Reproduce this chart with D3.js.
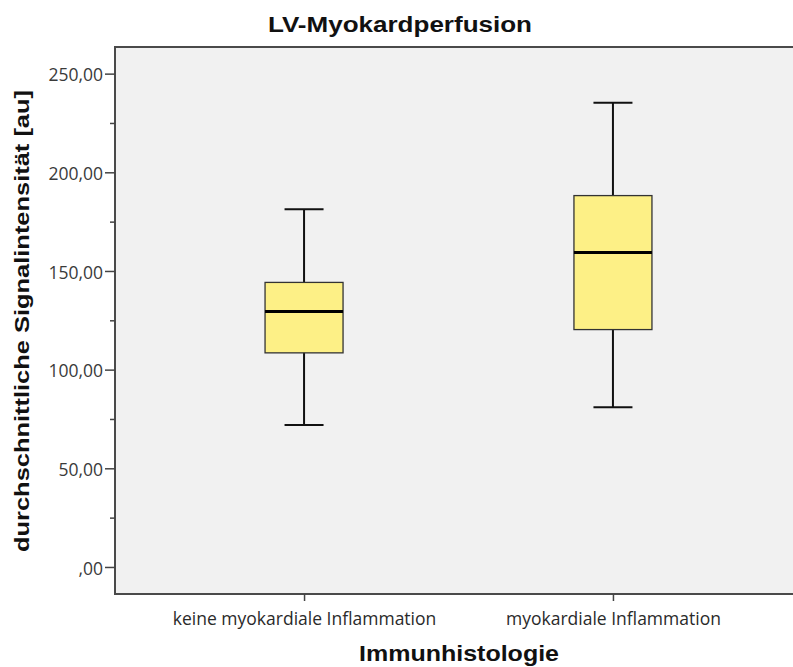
<!DOCTYPE html>
<html>
<head>
<meta charset="utf-8">
<script src="https://cdn.jsdelivr.net/npm/d3@7"></script>
<style>
  html, body { margin: 0; padding: 0; background: #ffffff; overflow: hidden; }
  svg { display: block; }
</style>
</head>
<body>
<svg id="chart" width="793" height="667"></svg>
<script>
// Box plot summary per group: whisker ends, quartiles, median
const categories = ["keine myokardiale Inflammation", "myokardiale Inflammation"];
const whiskerLow  = [72, 81];
const q1          = [108.5, 120.3];
const median      = [129.5, 159.3];
const q3          = [144.2, 188.2];
const whiskerHigh = [181.3, 235.3];
const yTicks = [0, 50, 100, 150, 200, 250];
const yMinorTicks = [25, 75, 125, 175, 225];

const svg = d3.select("#chart");
const plot = { left: 115, right: 802, top: 47, bottom: 594 };

const y = d3.scaleLinear().domain([-13.7, 263.5]).range([plot.bottom, plot.top]);
const x = d3.scalePoint().domain(categories).range([plot.left, plot.right]).padding(0.612);

const fmt = v => (v === 0 ? ",00" : d3.format(".2f")(v).replace(".", ","));
const tickFont = "'Open Sans', sans-serif";
const titleFont = "'Liberation Sans', Arial, sans-serif";

// Plot area background
svg.append("rect")
  .attr("x", plot.left).attr("y", plot.top)
  .attr("width", plot.right - plot.left).attr("height", plot.bottom - plot.top)
  .attr("fill", "#f1f1f1").attr("stroke", "#4a4a4a").attr("stroke-width", 2);

// Y axis
const yAxis = d3.axisLeft(y).tickValues(yTicks).tickFormat(fmt).tickSizeOuter(0).tickSize(10).tickPadding(2);
const gy = svg.append("g").attr("transform", `translate(${plot.left},0)`).call(yAxis);
gy.select(".domain").remove();
gy.selectAll("line").attr("stroke", "#444").attr("stroke-width", 1.5);
gy.selectAll("text").attr("font-family", tickFont).attr("font-size", 17.5).attr("fill", "#3a3a3a").attr("dy", "0.42em");

const yMinor = d3.axisLeft(y).tickValues(yMinorTicks).tickFormat("").tickSizeOuter(0).tickSize(5);
const gym = svg.append("g").attr("transform", `translate(${plot.left},0)`).call(yMinor);
gym.select(".domain").remove();
gym.selectAll("line").attr("stroke", "#444").attr("stroke-width", 1.5);

// X axis
const xAxis = d3.axisBottom(x).tickSize(7).tickSizeOuter(0).tickPadding(12);
const gx = svg.append("g").attr("transform", `translate(0,${plot.bottom})`).call(xAxis);
gx.select(".domain").remove();
gx.selectAll("line").attr("stroke", "#444").attr("stroke-width", 1.5);
gx.selectAll("text").attr("font-family", tickFont).attr("font-size", 17.5).attr("fill", "#2a2a2a");

// Boxes
const boxW = 78, capW = 39;
const boxes = svg.append("g").selectAll("g").data(categories).join("g")
  .attr("transform", d => `translate(${x(d)},0)`);

boxes.append("line")
  .attr("x1", 0).attr("x2", 0)
  .attr("y1", (d, i) => y(whiskerLow[i])).attr("y2", (d, i) => y(whiskerHigh[i]))
  .attr("stroke", "#111").attr("stroke-width", 2);
boxes.append("line")
  .attr("x1", -capW / 2).attr("x2", capW / 2)
  .attr("y1", (d, i) => y(whiskerHigh[i])).attr("y2", (d, i) => y(whiskerHigh[i]))
  .attr("stroke", "#111").attr("stroke-width", 2);
boxes.append("line")
  .attr("x1", -capW / 2).attr("x2", capW / 2)
  .attr("y1", (d, i) => y(whiskerLow[i])).attr("y2", (d, i) => y(whiskerLow[i]))
  .attr("stroke", "#111").attr("stroke-width", 2);
boxes.append("rect")
  .attr("x", -boxW / 2).attr("width", boxW)
  .attr("y", (d, i) => y(q3[i])).attr("height", (d, i) => y(q1[i]) - y(q3[i]))
  .attr("fill", "#fdf086").attr("stroke", "#333").attr("stroke-width", 1.3);
boxes.append("line")
  .attr("x1", -boxW / 2).attr("x2", boxW / 2)
  .attr("y1", (d, i) => y(median[i])).attr("y2", (d, i) => y(median[i]))
  .attr("stroke", "#000").attr("stroke-width", 3);

// Titles (wide bold face: stretched to the measured run length)
svg.append("text")
  .attr("x", 400).attr("y", 32)
  .attr("text-anchor", "middle")
  .attr("font-family", titleFont).attr("font-weight", "bold").attr("font-size", 22)
  .attr("textLength", 264).attr("lengthAdjust", "spacingAndGlyphs")
  .attr("fill", "#111")
  .text("LV-Myokardperfusion");

svg.append("text")
  .attr("x", 459).attr("y", 661)
  .attr("text-anchor", "middle")
  .attr("font-family", titleFont).attr("font-weight", "bold").attr("font-size", 21.5)
  .attr("textLength", 200).attr("lengthAdjust", "spacingAndGlyphs")
  .attr("fill", "#111")
  .text("Immunhistologie");

svg.append("text")
  .attr("transform", "translate(29,321) rotate(-90)")
  .attr("text-anchor", "middle")
  .attr("font-family", titleFont).attr("font-weight", "bold").attr("font-size", 21)
  .attr("textLength", 462).attr("lengthAdjust", "spacingAndGlyphs")
  .attr("fill", "#111")
  .text("durchschnittliche Signalintensität [au]");
</script>
</body>
</html>
